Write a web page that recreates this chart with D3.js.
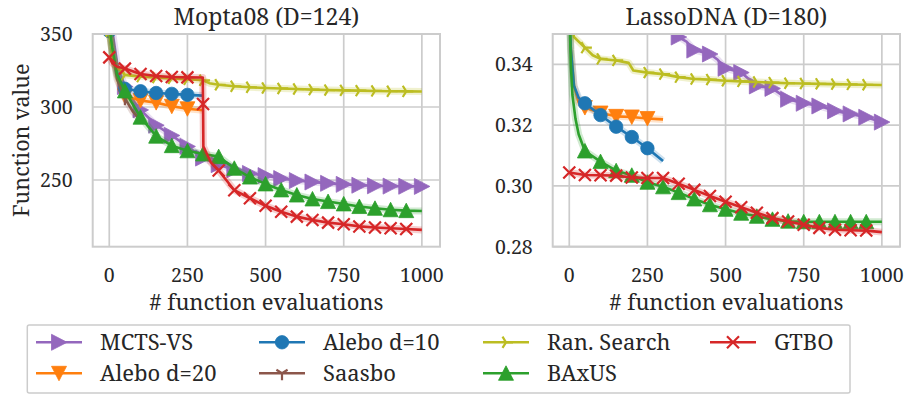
<!DOCTYPE html>
<html>
<head>
<meta charset="utf-8">
<script src="https://cdn.jsdelivr.net/npm/d3@7"></script>
<style>
	body { margin: 0; background: #fff; }
</style>
</head>
<body>
<script>
// Methods, in plotting / legend order
var methods = ['MCTS-VS', 'Alebo d=20', 'Alebo d=10', 'Saasbo', 'Ran. Search', 'BAxUS', 'GTBO'];
var colors = ['#9467bd', '#ff7f0e', '#1f77b4', '#8c564b', '#bcbd22', '#2ca02c', '#d62728'];
var markers = ['right', 'down', 'circle', 'tridown', 'triright', 'up', 'x'];

var evalTicks = [0, 250, 500, 750, 1000];
var moptaTicks = [250, 300, 350];
var lassoTicks = [0.28, 0.30, 0.32, 0.34];

// Mopta08: [evaluations, function value]
var moptaMcts = [[10,352],[25,330],[50,314],[75,305],[100,298],[150,287.5],[200,280.5],[250,273],[300,265],[350,260.5],[400,257],[450,254.5],[500,253],[550,251],[600,249.6],[650,248.6],[700,247.7],[750,247],[800,246.4],[850,246],[900,245.8],[950,245.7],[1000,245.6]];
var moptaAlebo20 = [[0,352],[10,336],[25,322],[40,311],[50,307.5],[100,304.5],[150,303],[200,300.5],[250,298.8],[300,297.8]];
var moptaAlebo10 = [[0,352],[10,336],[25,324],[40,315],[50,312.5],[100,310.8],[150,309.6],[200,309],[250,308.3],[300,307.8]];
var moptaSaasbo = [[0,352],[10,338],[25,319],[50,306],[75,297],[100,291]];
var moptaRandom = [[0,352],[10,336],[20,328],[50,322],[100,320.8],[150,320.2],[200,319.6],[250,319],[300,318.3],[320,316.3],[350,315.2],[400,314.2],[450,313.5],[500,313],[550,312.7],[600,312.3],[650,311.9],[700,311.6],[750,311.4],[800,311.2],[850,311],[900,310.8],[950,310.7],[1000,310.6]];
var moptaBaxus = [[0,356],[10,340],[25,322],[50,311],[100,293],[150,280],[200,273.5],[250,270],[300,267.8],[350,266],[400,258],[450,252],[500,247.3],[550,243.2],[600,239.7],[650,237],[700,235.2],[750,233.6],[800,231.8],[850,230.6],[900,229.6],[950,229],[1000,228.8]];
var moptaGtbo = [[0,334],[10,330],[25,327.5],[50,326.3],[100,322.6],[150,321.2],[200,320.5],[250,320.3],[299,320.2],[300,302],[301,273],[325,262],[350,256.5],[400,243],[450,237.5],[500,232.3],[550,228.3],[600,224.9],[650,222.6],[700,220.8],[750,219.7],[800,218.2],[850,217.5],[900,216.9],[950,216.4],[1000,215.8]];

// LassoDNA: [evaluations, function value]
var lassoMcts = [[330,0.3495],[350,0.349],[375,0.3475],[400,0.3447],[450,0.3434],[475,0.3415],[500,0.3387],[550,0.3373],[600,0.3329],[650,0.3321],[700,0.3285],[750,0.3272],[800,0.3263],[850,0.3247],[900,0.3237],[950,0.3226],[1000,0.321]];
var lassoAlebo20 = [[0,0.36],[5,0.345],[15,0.333],[30,0.3275],[50,0.3258],[100,0.324],[150,0.3229],[200,0.3227],[250,0.3222],[300,0.3219]];
var lassoAlebo10 = [[0,0.36],[5,0.345],[15,0.333],[30,0.329],[50,0.3272],[100,0.3233],[150,0.3195],[200,0.3161],[250,0.3124],[300,0.3082]];
var lassoSaasbo = [];
var lassoRandom = [[10,0.352],[15,0.349],[50,0.3455],[75,0.343],[100,0.3418],[150,0.3413],[190,0.3405],[205,0.338],[250,0.3373],[300,0.3368],[350,0.3358],[400,0.3352],[450,0.335],[500,0.3346],[550,0.3344],[600,0.3342],[650,0.334],[700,0.3338],[750,0.3337],[800,0.3336],[850,0.3335],[900,0.3334],[950,0.3333],[1000,0.3332]];
var lassoBaxus = [[0,0.36],[5,0.34],[10,0.33],[20,0.322],[30,0.317],[50,0.3115],[100,0.308],[150,0.305],[200,0.3035],[250,0.3012],[300,0.2997],[350,0.2978],[400,0.2957],[450,0.2938],[500,0.2923],[550,0.291],[600,0.29],[650,0.289],[700,0.2884],[750,0.2882],[800,0.2882],[850,0.2882],[900,0.2882],[950,0.2882],[1000,0.2882]];
var lassoGtbo = [[0,0.3044],[50,0.3036],[100,0.3035],[150,0.3034],[200,0.3028],[250,0.3026],[300,0.3026],[350,0.3007],[400,0.2987],[450,0.2967],[500,0.2948],[550,0.293],[600,0.2912],[650,0.2894],[700,0.2883],[750,0.2872],[800,0.2862],[850,0.2856],[900,0.2854],[950,0.2853],[1000,0.2848]];

var moptaSeries = [moptaMcts, moptaAlebo20, moptaAlebo10, moptaSaasbo, moptaRandom, moptaBaxus, moptaGtbo];
var lassoSeries = [lassoMcts, lassoAlebo20, lassoAlebo10, lassoSaasbo, lassoRandom, lassoBaxus, lassoGtbo];

// Layout
var W = 904, H = 394;
var plotTop = 34, plotH = 212.7, plotW = 347.3;
var gridColor = '#cccccc';
var textColor = '#262626';
var serif = "'Noto Serif', 'Liberation Serif', serif";

var svg = d3.select('body').append('svg')
	.attr('width', W)
	.attr('height', H);

// helper for text with the serif face
function label(g, size) {
	return g.append('text')
		.style('font-family', serif)
		.style('font-size', size + 'px')
		.style('fill', textColor);
}

// marker shapes (roughly matplotlib style)
function markerPath(type) {
	switch (type) {
		case 'up': return 'M0,-7.5L7.5,7L-7.5,7Z';
		case 'down': return 'M0,7.5L7.5,-7L-7.5,-7Z';
		case 'right': return 'M8,0L-7.5,-8L-7.5,8Z';
		case 'circle': return d3.symbol(d3.symbolCircle, Math.PI * 6.7 * 6.7)();
		case 'x': return 'M-6,-6L6,6M-6,6L6,-6';
		case 'tridown': return 'M0,0L0,7M0,0L5.6,-3.5M0,0L-5.6,-3.5';
		case 'triright': return 'M0,0L7,0M0,0L-3.5,-5.6M0,0L-3.5,5.6';
	}
}
function isStroked(type) {
	return type === 'x' || type === 'tridown' || type === 'triright';
}
function drawMarker(g, i, x, y) {
	var m = markers[i];
	g.append('path')
		.attr('d', markerPath(m))
		.attr('transform', 'translate(' + x + ',' + y + ')')
		.attr('fill', isStroked(m) ? 'none' : colors[i])
		.attr('stroke', colors[i])
		.attr('stroke-width', isStroked(m) ? 2.2 : 0.8);
}

var panels = [
	{ title: 'Mopta08 (D=124)', series: moptaSeries, yDomain: [204.3, 350], yTicks: moptaTicks, fmt: d3.format('d'), left: 92.7, ylabel: 'Function value' },
	{ title: 'LassoDNA (D=180)', series: lassoSeries, yDomain: [0.28, 0.35], yTicks: lassoTicks, fmt: d3.format('.2f'), left: 552.7 }
];

panels.forEach(function(p, pi) {
	var x = d3.scaleLinear().domain([-53, 1058]).range([0, plotW]);
	var y = d3.scaleLinear().domain(p.yDomain).range([plotH, 0]);

	var g = svg.append('g')
		.attr('transform', 'translate(' + p.left + ',' + plotTop + ')');

	g.append('clipPath')
		.attr('id', 'clip' + pi)
		.append('rect')
		.attr('width', plotW)
		.attr('height', plotH);

	// grid
	g.selectAll('.vgrid')
		.data(evalTicks)
		.enter()
		.append('line')
		.attr('x1', d => x(d))
		.attr('x2', d => x(d))
		.attr('y1', 0)
		.attr('y2', plotH)
		.attr('stroke', gridColor)
		.attr('stroke-width', 1.7);
	g.selectAll('.hgrid')
		.data(p.yTicks)
		.enter()
		.append('line')
		.attr('x1', 0)
		.attr('x2', plotW)
		.attr('y1', d => y(d))
		.attr('y2', d => y(d))
		.attr('stroke', gridColor)
		.attr('stroke-width', 1.7);

	// tick labels
	evalTicks.forEach(function(t) {
		label(g, 19.5)
			.attr('x', x(t))
			.attr('y', 248)
			.attr('text-anchor', 'middle')
			.text(t);
	});
	p.yTicks.forEach(function(t) {
		label(g, 19.5)
			.attr('x', -20)
			.attr('y', y(t))
			.attr('dy', '0.36em')
			.attr('text-anchor', 'end')
			.text(p.fmt(t));
	});

	// series
	var plot = g.append('g').attr('clip-path', 'url(#clip' + pi + ')');
	var line = d3.line().x(d => x(d[0])).y(d => y(d[1]));

	p.series.forEach(function(data, i) {
		if (!data.length) return;
		// light band around the mean
		plot.append('path')
			.datum(data)
			.attr('d', line)
			.attr('fill', 'none')
			.attr('stroke', colors[i])
			.attr('stroke-opacity', 0.22)
			.attr('stroke-width', 7)
			.attr('stroke-linejoin', 'round');
		plot.append('path')
			.datum(data)
			.attr('d', line)
			.attr('fill', 'none')
			.attr('stroke', colors[i])
			.attr('stroke-width', 2.6)
			.attr('stroke-linejoin', 'round');
		var last = data[data.length - 1][0];
		data.forEach(function(d) {
			if (d[0] % 50 !== 0) return;
			if (d[0] === last && methods[i] !== 'MCTS-VS') return;
			drawMarker(plot, i, x(d[0]), y(d[1]));
		});
	});

	// spines
	g.append('rect')
		.attr('width', plotW)
		.attr('height', plotH)
		.attr('fill', 'none')
		.attr('stroke', gridColor)
		.attr('stroke-width', 2);

	// title and labels
	label(g, 23)
		.attr('x', plotW / 2)
		.attr('y', 24.5 - plotTop)
		.attr('text-anchor', 'middle')
		.text(p.title);
	label(g, 22)
		.attr('x', plotW / 2)
		.attr('y', 310 - plotTop)
		.attr('text-anchor', 'middle')
		.text('# function evaluations');
	if (p.ylabel) {
		label(g, 21.5)
			.attr('transform', 'rotate(-90)')
			.attr('x', -plotH / 2)
			.attr('y', 29 - p.left)
			.attr('text-anchor', 'middle')
			.text(p.ylabel);
	}
});

// Legend
var legend = svg.append('g');
legend.append('rect')
	.attr('x', 27.3)
	.attr('y', 325)
	.attr('width', 822.7)
	.attr('height', 68)
	.attr('rx', 2)
	.attr('fill', '#fff')
	.attr('stroke', gridColor)
	.attr('stroke-width', 1.5);

var colX = [36, 259, 483, 710];
var rowY = [342.3, 373.3];
methods.forEach(function(name, i) {
	var cx = colX[Math.floor(i / 2)], cy = rowY[i % 2];
	legend.append('line')
		.attr('x1', cx)
		.attr('x2', cx + 46)
		.attr('y1', cy)
		.attr('y2', cy)
		.attr('stroke', colors[i])
		.attr('stroke-width', 2.6);
	drawMarker(legend, i, cx + 23, cy);
	label(legend, 22)
		.attr('x', cx + 64)
		.attr('y', cy)
		.attr('dy', '0.36em')
		.text(name);
});
</script>
</body>
</html>
